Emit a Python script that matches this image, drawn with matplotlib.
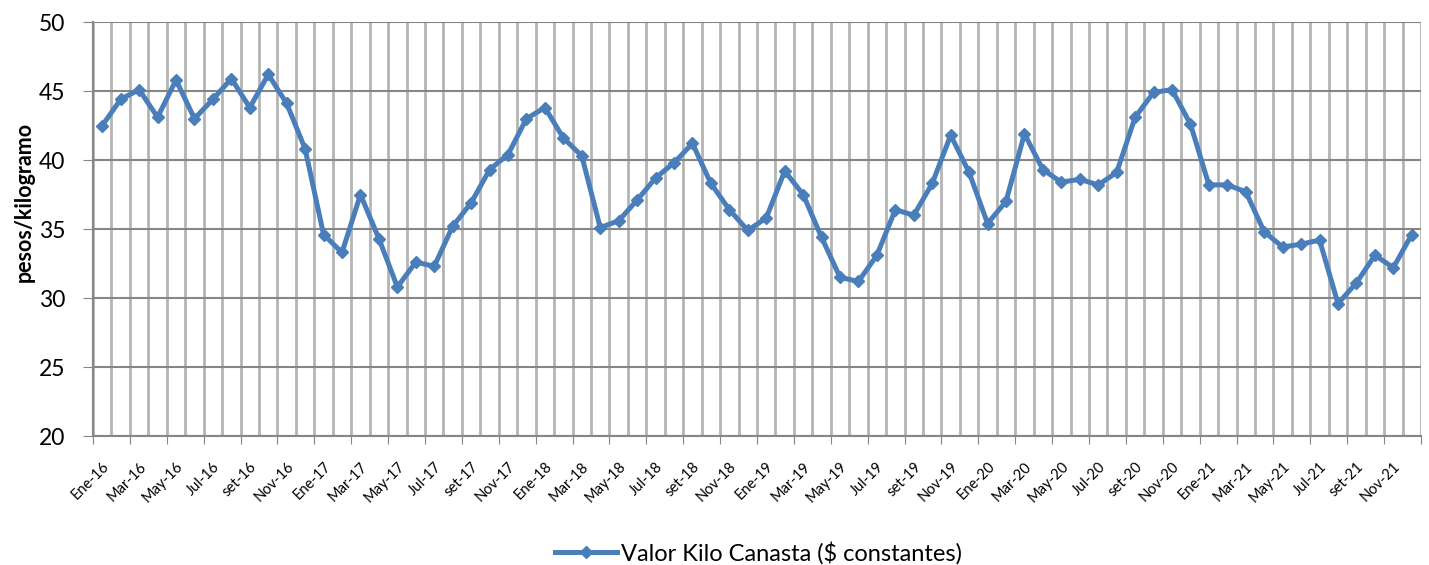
import matplotlib.pyplot as plt
from matplotlib.lines import Line2D

# monthly values, Ene-16 .. Dic-21
months = ['Ene', 'Feb', 'Mar', 'Abr', 'May', 'Jun',
          'Jul', 'Ago', 'set', 'Oct', 'Nov', 'Dic']
years = ['16', '17', '18', '19', '20', '21']
labels = [m + '-' + y for y in years for m in months]

valor_kilo = [
    42.5, 44.4, 45.1, 43.1, 45.8, 43.0, 44.4, 45.9, 43.8, 46.2, 44.1, 40.8,
    34.6, 33.3, 37.5, 34.3, 30.8, 32.6, 32.3, 35.2, 36.9, 39.3, 40.4, 43.0,
    43.8, 41.6, 40.3, 35.1, 35.6, 37.1, 38.7, 39.8, 41.2, 38.3, 36.4, 34.9,
    35.8, 39.2, 37.5, 34.4, 31.5, 31.2, 33.1, 36.4, 36.0, 38.3, 41.8, 39.1,
    35.4, 37.0, 41.9, 39.3, 38.4, 38.6, 38.2, 39.1, 43.1, 44.9, 45.1, 42.6,
    38.2, 38.2, 37.7, 34.8, 33.7, 33.9, 34.2, 29.6, 31.1, 33.1, 32.2, 34.6,
]

plt.rcParams['font.family'] = ['Lato', 'DejaVu Sans']
color = '#4a7ebb'

fig = plt.figure(figsize=(14.29, 5.65), dpi=100)
ax = fig.add_axes([0.0651, 0.2283, 0.9293, 0.7327])

x = list(range(len(valor_kilo)))
ax.plot(x, valor_kilo, color=color, linewidth=3.6, marker='D', markersize=6.5,
        zorder=3, solid_joinstyle='round')

ax.set_xlim(-0.5, len(valor_kilo) - 0.5)
ax.set_ylim(20, 50)
ax.set_yticks(range(20, 51, 5))
ax.tick_params(axis='y', labelsize=16.5, length=7, color='#868686', pad=13)

# vertical gridlines at every month boundary, tick marks every 2 months
bounds = [i - 0.5 for i in range(len(valor_kilo) + 1)]
ax.set_xticks(bounds[::2])
ax.set_xticks(bounds[1::2], minor=True)
ax.set_xticklabels([])
ax.tick_params(axis='x', which='major', length=6, color='#868686')
ax.tick_params(axis='x', which='minor', length=0)
ax.grid(axis='x', which='both', color='#b4b4b4', linewidth=2)
ax.grid(axis='y', color='#868686', linewidth=1.5)
ax.set_axisbelow(True)

# month labels centred on each second category
sec = ax.secondary_xaxis('bottom')
sec.set_xticks(x[::2])
sec.set_xticklabels(labels[::2], rotation=45, ha='right',
                    rotation_mode='anchor', fontsize=10.5)
sec.tick_params(length=0, pad=17)
sec.spines['bottom'].set_visible(False)

for s in ['top', 'right']:
    ax.spines[s].set_visible(False)
for s in ['left', 'bottom']:
    ax.spines[s].set_color('#868686')
    ax.spines[s].set_linewidth(1.5)

ax.set_ylabel('pesos/kilogramo', fontsize=15.5, fontweight='bold')
ax.yaxis.set_label_coords(-0.044, 0.565)

handle = Line2D([], [], color=color, linewidth=3.6, marker='D', markersize=6)
fig.legend([handle], ['Valor Kilo Canasta ($ constantes)'], loc='center',
           bbox_to_anchor=(0.531, 0.021), frameon=False, fontsize=17,
           handlelength=2.6, handletextpad=0.2)

fig.savefig('out.png', dpi=100)
